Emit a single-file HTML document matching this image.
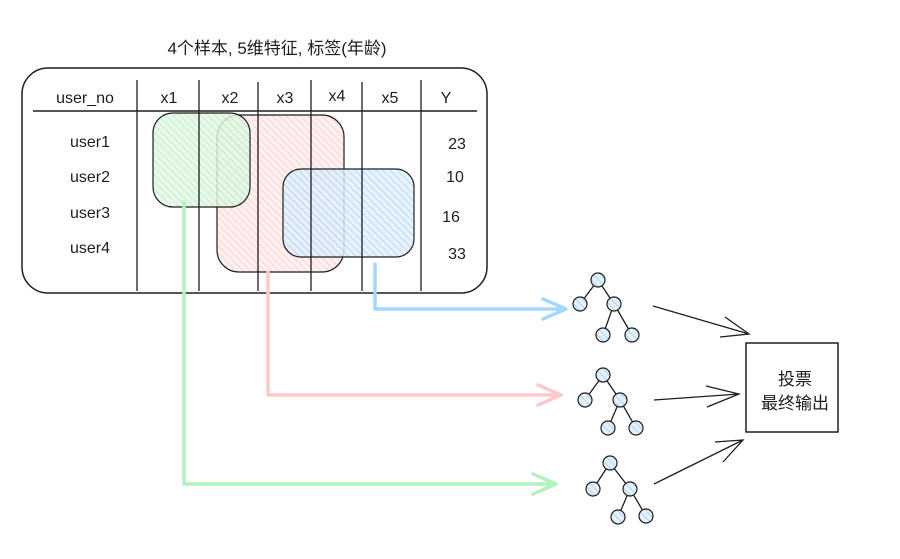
<!DOCTYPE html>
<html><head><meta charset="utf-8"><style>
body{margin:0;background:#fff;}
svg text{font-family:"Liberation Sans","Noto Sans CJK SC",sans-serif;}
.h{font-family:"Liberation Sans","Noto Sans CJK SC",sans-serif;font-size:17px;fill:#1e1e1e;}
</style></head><body>
<svg width="900" height="554" viewBox="0 0 900 554" xmlns="http://www.w3.org/2000/svg">
<defs>
<pattern id="pg" width="5" height="5" patternUnits="userSpaceOnUse" patternTransform="rotate(-45)"><rect width="5" height="5" fill="#e6f6e6"/><line x1="0" y1="0" x2="0" y2="5" stroke="#b2f2bb" stroke-width="2"/></pattern>
<pattern id="pr" width="5" height="5" patternUnits="userSpaceOnUse" patternTransform="rotate(-45)"><rect width="5" height="5" fill="#fdeeee"/><line x1="0" y1="0" x2="0" y2="5" stroke="#ffc9c9" stroke-width="2"/></pattern>
<pattern id="pb" width="5" height="5" patternUnits="userSpaceOnUse" patternTransform="rotate(-45)"><rect width="5" height="5" fill="#e6f0fb"/><line x1="0" y1="0" x2="0" y2="5" stroke="#a5d8ff" stroke-width="2"/></pattern>
</defs>
<text x="277" y="54" text-anchor="middle" class="h">4个样本, 5维特征, 标签(年龄)</text>
<rect x="22" y="68" width="465" height="225" rx="26" fill="none" stroke="#1e1e1e" stroke-width="1.5"/>
<line x1="33" y1="111" x2="477" y2="111" stroke="#1e1e1e" stroke-width="1.5"/>
<g fill="#1e1e1e" font-size="16" text-anchor="middle">
<text x="85" y="103">user_no</text><text x="169" y="103">x1</text><text x="230" y="103">x2</text><text x="285" y="103">x3</text><text x="337" y="101">x4</text><text x="390" y="103">x5</text><text x="446" y="103">Y</text>
<text x="90" y="147">user1</text><text x="90" y="182">user2</text><text x="90" y="218">user3</text><text x="90" y="253">user4</text>
<text x="457" y="149">23</text><text x="455" y="182">10</text><text x="451" y="222">16</text><text x="457" y="259">33</text>
</g>
<rect x="217" y="115" width="127" height="157" rx="22" fill="url(#pr)" fill-opacity="0.85" stroke="#1e1e1e" stroke-width="1.2"/>
<rect x="153" y="113" width="97" height="94" rx="20" fill="url(#pg)" fill-opacity="0.85" stroke="#1e1e1e" stroke-width="1.2"/>
<rect x="283" y="169" width="131" height="88" rx="18" fill="url(#pb)" fill-opacity="0.85" stroke="#1e1e1e" stroke-width="1.2"/>
<g stroke="#1e1e1e" stroke-width="1.3">
<line x1="137" y1="80" x2="137" y2="291"/><line x1="199" y1="80" x2="199" y2="291"/>
<line x1="258" y1="82" x2="258" y2="291"/><line x1="311" y1="80" x2="311" y2="291"/>
<line x1="362" y1="82" x2="362" y2="291"/><line x1="421" y1="80" x2="421" y2="291"/>
</g>
<g fill="none" stroke-width="3.5" stroke-linecap="round" stroke-linejoin="round">
<path d="M184 202 V484 H555 M533 474 L556 484 L533 494" stroke="#b2f2bb"/>
<path d="M268 272 V395 H560 M538 385 L561 395 L538 405" stroke="#ffc9c9"/>
<path d="M375 264 V309 H565 M543 299 L566 309 L543 319" stroke="#a5d8ff"/>
</g>
<g stroke="#1e1e1e" stroke-width="1.3" fill="none">
<path d="M598 280 L580 304 M598 280 L614 304 L603 335 M614 304 L632 335"/>
<path d="M603 375 L585 400 M603 375 L620 400 L608 428 M620 400 L636 428"/>
<path d="M610 463 L593 489 M610 463 L630 489 L618 517 M630 489 L646 516"/>
<path d="M653 306 L749 334 M725 317 L749 334 L720 337"/>
<path d="M654 400 L739 394 M706 386 L739 394 L707 407"/>
<path d="M654 484 L743 440 M715 442 L743 440 L723 462"/>
</g>
<g fill="url(#pb)" stroke="#1e1e1e" stroke-width="1.2">
<circle cx="598" cy="280" r="7"/><circle cx="580" cy="304" r="7"/><circle cx="614" cy="304" r="7"/><circle cx="603" cy="335" r="7"/><circle cx="632" cy="335" r="7"/>
<circle cx="603" cy="375" r="7"/><circle cx="585" cy="400" r="7"/><circle cx="620" cy="400" r="7"/><circle cx="608" cy="428" r="7"/><circle cx="636" cy="428" r="7"/>
<circle cx="610" cy="463" r="7"/><circle cx="593" cy="489" r="7"/><circle cx="630" cy="489" r="7"/><circle cx="618" cy="517" r="7"/><circle cx="646" cy="516" r="7"/>
</g>
<rect x="746" y="343" width="92" height="89" fill="#fff" stroke="#1e1e1e" stroke-width="1.5"/>
<text x="795" y="385" text-anchor="middle" class="h">投票</text>
<text x="795" y="409" text-anchor="middle" class="h">最终输出</text>
</svg>
</body></html>
